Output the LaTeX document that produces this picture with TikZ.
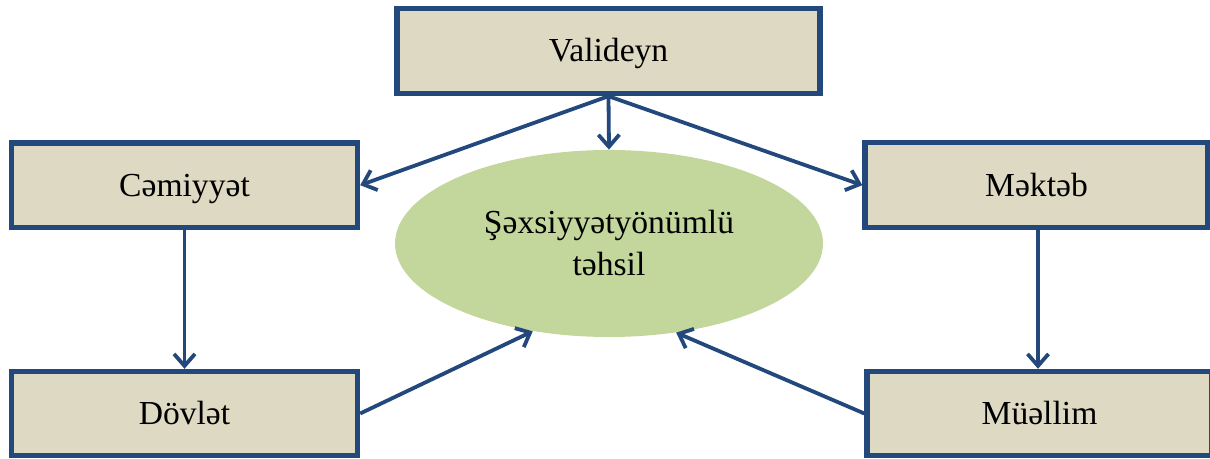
\documentclass[tikz,border=0pt]{standalone}
\usepackage{fontspec}
\setmainfont{Liberation Serif}
\usetikzlibrary{shapes.geometric,arrows.meta}
\definecolor{bordblue}{RGB}{35,72,124}
\definecolor{boxfill}{RGB}{221,217,195}
\definecolor{ellfill}{RGB}{195,214,155}
\tikzset{
  boxnode/.style={draw=bordblue, line width=2.7pt, fill=boxfill, rectangle,
    inner sep=0pt, text height=11pt, text depth=0pt,
    font=\fontsize{16.8}{21}\selectfont},
  ellnode/.style={ellipse, fill=ellfill, draw=none, inner sep=0pt,
    minimum width=214pt, minimum height=93.5pt, align=center,
    font=\fontsize{16.8}{21}\selectfont},
  conn/.style={draw=bordblue, line width=1.9pt,
    -{Straight Barb[length=6pt,width=10.5pt,line width=1.9pt]}}
}
\begin{document}
\begin{tikzpicture}[x=0.5pt,y=-0.5pt]
\useasboundingbox (0,0) rectangle (1210,459);
\node[boxnode, minimum width=211.5pt, minimum height=42.5pt] (V) at (608.5,51) {Valideyn};
\node[boxnode, minimum width=173pt, minimum height=42.3pt] (C) at (184.5,185.2) {Cəmiyyət};
\node[boxnode, minimum width=171.5pt, minimum height=42.5pt] (M) at (1036.5,185.2) {Məktəb};
\node[boxnode, minimum width=173pt, minimum height=42pt] (D) at (184.5,413.5) {Dövlət};
\node[boxnode, minimum width=172.5pt, minimum height=42pt] (U) at (1039.5,413.5) {Müəllim};
\node[ellnode] (E) at (609,243.5) {Şəxsiyyətyönümlü\\təhsil};
\draw[conn] (V.south) -- (C.east);
\draw[conn] (V.south) -- (E.north);
\draw[conn] (V.south) -- (M.west);
\draw[conn] (C.south) -- (D.north);
\draw[conn] ([xshift=0.75pt]M.south) -- ([xshift=0.75pt]M.south |- U.north);
\draw[conn] (D.east) -- (E.229);
\draw[conn] (U.west) -- (E.307);
\end{tikzpicture}
\end{document}
